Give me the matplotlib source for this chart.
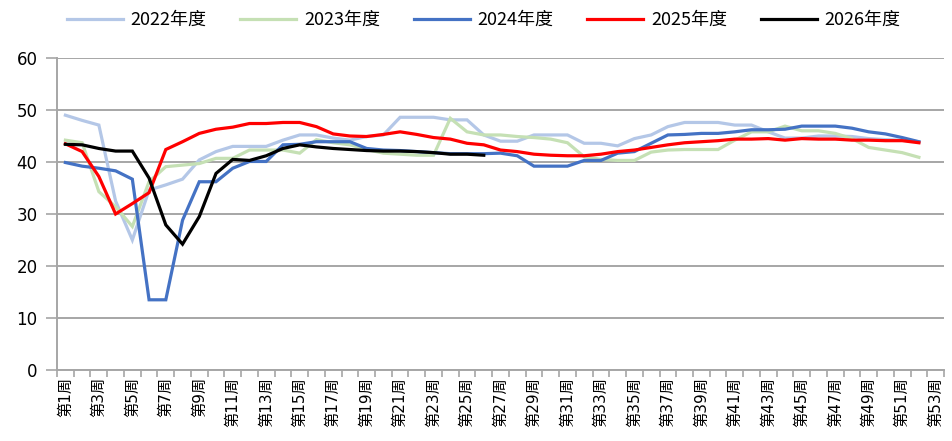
import numpy as np
import matplotlib
matplotlib.use("Agg")
import matplotlib.pyplot as plt

plt.rcParams["font.family"] = ["DejaVu Sans", "Noto Sans CJK SC"]

weeks = [f"第{i}周" for i in range(1, 54)]

y2022 = [49.0, 48.0, 47.1, 32.5, 25.0, 34.6, 35.6, 36.7, 40.4, 42.0,
         43.0, 43.0, 43.0, 44.2, 45.2, 45.2, 44.6, 44.2, 44.9, 45.2,
         48.6, 48.6, 48.6, 48.1, 48.1, 45.2, 44.0, 44.0, 45.2, 45.2,
         45.2, 43.6, 43.6, 43.1, 44.5, 45.2, 46.8, 47.6, 47.6, 47.6,
         47.1, 47.1, 45.8, 44.6, 44.6, 45.0, 45.0, 44.9, 44.5, 44.3,
         44.2, 43.9]
y2023 = [44.2, 43.7, 34.3, 31.4, 27.6, 36.2, 39.1, 39.4, 39.7, 40.7,
         40.7, 42.3, 42.3, 42.3, 41.7, 44.3, 43.7, 43.3, 42.4, 41.7,
         41.5, 41.3, 41.3, 48.4, 45.8, 45.2, 45.2, 44.9, 44.7, 44.4,
         43.7, 41.0, 40.5, 40.3, 40.3, 41.9, 42.3, 42.4, 42.4, 42.4,
         44.2, 45.8, 45.8, 46.9, 46.0, 46.0, 45.5, 44.5, 42.8, 42.3,
         41.8, 40.9]
y2024 = [39.9, 39.2, 38.8, 38.3, 36.7, 13.5, 13.5, 28.8, 36.2, 36.2,
         38.8, 40.1, 40.1, 43.3, 43.4, 43.9, 43.9, 43.9, 42.6, 42.3,
         42.2, 42.0, 41.8, 41.6, 41.6, 41.6, 41.7, 41.2, 39.2, 39.2,
         39.2, 40.3, 40.3, 41.7, 42.0, 43.6, 45.2, 45.3, 45.5, 45.5,
         45.8, 46.2, 46.2, 46.3, 46.9, 46.9, 46.9, 46.5, 45.8, 45.4,
         44.7, 43.9]
y2025 = [43.5, 42.0, 37.2, 30.0, 32.0, 34.1, 42.4, 43.9, 45.5, 46.3,
         46.7, 47.4, 47.4, 47.6, 47.6, 46.8, 45.4, 45.0, 44.9, 45.3,
         45.8, 45.3, 44.7, 44.4, 43.6, 43.3, 42.3, 42.0, 41.5, 41.3,
         41.2, 41.2, 41.5, 42.0, 42.3, 42.8, 43.3, 43.7, 43.9, 44.1,
         44.4, 44.4, 44.5, 44.2, 44.5, 44.4, 44.4, 44.2, 44.2, 44.1,
         44.1, 43.7]
y2026 = [43.4, 43.3, 42.6, 42.1, 42.1, 36.9, 27.9, 24.2, 29.5, 37.8,
         40.5, 40.3, 41.2, 42.6, 43.3, 42.9, 42.6, 42.4, 42.2, 42.1,
         42.1, 42.0, 41.8, 41.5, 41.5, 41.3]

series = [
    ("2022年度", y2022, "#B4C7E7"),
    ("2023年度", y2023, "#C5E0B4"),
    ("2024年度", y2024, "#4472C4"),
    ("2025年度", y2025, "#FF0000"),
    ("2026年度", y2026, "#000000"),
]

fig = plt.figure(figsize=(9.52, 4.41), dpi=100)
ax = fig.add_axes([0.0599, 0.161, 0.9317, 0.7075])

for label, vals, color in series:
    ax.plot(np.arange(len(vals)), vals, color=color, lw=2.3, label=label,
            solid_joinstyle="miter")

grid_color = "#A6A6A6"
ax.set_ylim(0, 60)
ax.set_yticks(range(0, 61, 10))
ax.yaxis.grid(True, color=grid_color, lw=1.4)
ax.set_axisbelow(True)
ax.set_xlim(-0.5, len(weeks) - 0.5)

# boundary ticks between categories, labels on every other week
ax.set_xticks(np.arange(-0.5, len(weeks), 1.0))
ax.set_xticklabels([])
ax.set_xticks(np.arange(0, len(weeks), 2), minor=True)
ax.set_xticklabels(weeks[::2], minor=True, rotation=90, fontsize=11,
                   va="top", ha="center")
ax.tick_params(axis="x", which="major", length=5, color=grid_color, width=1.2)
ax.tick_params(axis="x", which="minor", length=0, pad=5)
ax.tick_params(axis="y", length=8, color=grid_color, width=1.2,
               labelsize=12, pad=6)

for side in ("top", "right"):
    ax.spines[side].set_visible(False)
for side in ("left", "bottom"):
    ax.spines[side].set_color(grid_color)
    ax.spines[side].set_linewidth(1.4)

fig.legend(loc="upper center", bbox_to_anchor=(0.508, 1.012), ncol=5,
           frameon=False, handlelength=3.1, columnspacing=1.85,
           handletextpad=0.45, prop={"family": ["Noto Sans CJK SC"], "size": 13})

fig.savefig("out.png", dpi=100)
